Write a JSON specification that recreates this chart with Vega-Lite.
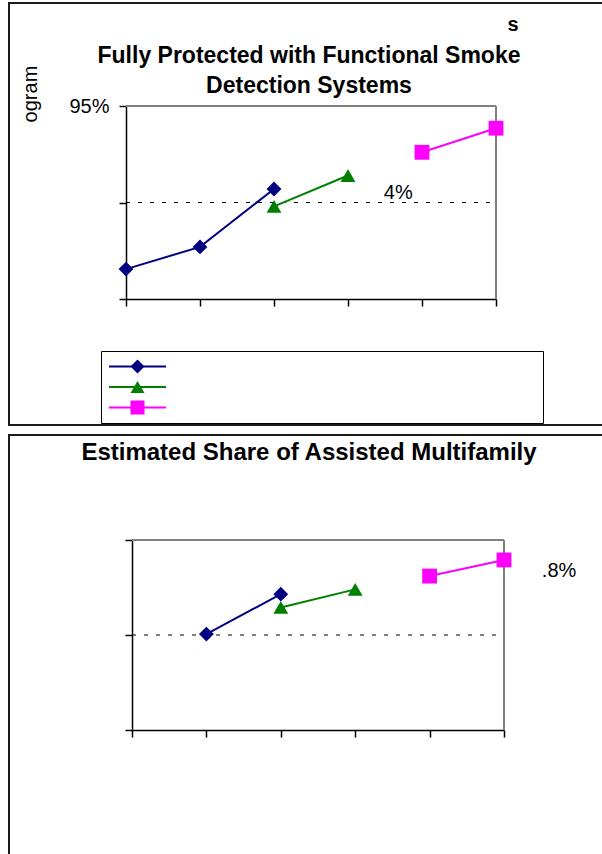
{
  "$schema": "https://vega.github.io/schema/vega-lite/v6.json",
  "padding": {"left": 8, "top": 2, "right": 0, "bottom": 0},
  "spacing": 8,
  "background": "white",
  "config": {
    "font": "Liberation Sans",
    "view": {"stroke": "#1a1a1a", "strokeWidth": 2},
    "axis": {"labelFont": "Liberation Sans", "titleFont": "Liberation Sans"}
  },
  "datasets": {
    "top": [
      {"series": "Series 1", "x": 0, "y": 78.1},
      {"series": "Series 1", "x": 1, "y": 80.4},
      {"series": "Series 1", "x": 2, "y": 86.4},
      {"series": "Series 2", "x": 2, "y": 84.6},
      {"series": "Series 2", "x": 3, "y": 87.8},
      {"series": "Series 3", "x": 4, "y": 90.2},
      {"series": "Series 3", "x": 5, "y": 92.7}
    ],
    "bottom": [
      {"series": "Series 1", "x": 1, "y": 80.1},
      {"series": "Series 1", "x": 2, "y": 84.3},
      {"series": "Series 2", "x": 2, "y": 82.9},
      {"series": "Series 2", "x": 3, "y": 84.8},
      {"series": "Series 3", "x": 4, "y": 86.2},
      {"series": "Series 3", "x": 5, "y": 87.9}
    ]
  },
  "resolve": {
    "scale": {"x": "independent", "y": "independent", "color": "independent", "shape": "independent", "stroke": "independent"},
    "legend": {"color": "independent", "shape": "independent", "stroke": "independent"}
  },
  "vconcat": [
    {
      "width": 600,
      "height": 422,
      "title": {
        "text": ["Fully Protected with Functional Smoke", "Detection Systems"],
        "anchor": "middle",
        "frame": "group",
        "offset": -95,
        "baseline": "top",
        "fontSize": 23,
        "fontWeight": "bold",
        "lineHeight": 30,
        "font": "Liberation Sans",
        "color": "#000"
      },
      "layer": [
        {
          "data": {"values": [{}]},
          "mark": {"type": "rule", "color": "#808080", "strokeWidth": 2},
          "encoding": {
            "x": {"datum": 0, "type": "quantitative"},
            "x2": {"datum": 5},
            "y": {"datum": 95, "type": "quantitative"}
          }
        },
        {
          "data": {"values": [{}]},
          "mark": {"type": "rule", "color": "#808080", "strokeWidth": 2},
          "encoding": {
            "x": {"datum": 5, "type": "quantitative"},
            "y": {"datum": 75, "type": "quantitative"},
            "y2": {"datum": 95}
          }
        },
        {
          "data": {"values": [{}]},
          "mark": {"type": "rule", "color": "#000", "strokeWidth": 1, "strokeDash": [4, 8]},
          "encoding": {
            "x": {"datum": 0, "type": "quantitative"},
            "x2": {"datum": 5},
            "y": {"datum": 85, "type": "quantitative"}
          }
        },
        {
          "data": {"name": "top"},
          "mark": {"type": "line", "strokeWidth": 2},
          "encoding": {
            "x": {
              "field": "x", "type": "quantitative",
              "scale": {"domain": [0, 5], "range": [117, 487], "nice": false, "zero": false},
              "axis": {
                "orient": "bottom", "offset": -126, "values": [0, 1, 2, 3, 4, 5],
                "labels": false, "title": null, "grid": false,
                "domainColor": "#000", "domainWidth": 1.5,
                "tickColor": "#000", "tickWidth": 1.5, "tickSize": 7
              }
            },
            "y": {
              "field": "y", "type": "quantitative",
              "scale": {"domain": [75, 95], "range": [296, 103], "nice": false, "zero": false},
              "axis": {
                "orient": "left", "offset": -117, "values": [75, 85, 95],
                "labelExpr": "datum.value == 95 ? '95%' : ''",
                "labelFontSize": 20, "labelColor": "#000", "labelPadding": 10,
                "title": null, "grid": false,
                "domainColor": "#000", "domainWidth": 1.5,
                "tickColor": "#000", "tickWidth": 1.5, "tickSize": 7
              }
            },
            "stroke": {
              "field": "series", "type": "nominal",
              "scale": {"domain": ["Series 3", "Series 2", "Series 1"], "range": ["#FF00FF", "#008000", "#000080"]},
              "legend": {
                "orient": "none", "legendX": 92, "legendY": 348, "zindex": 1,
                "values": ["Series 1", "Series 2", "Series 3"],
                "title": null,
                "strokeColor": "#000", "fillColor": "#fff", "padding": 8,
                "symbolType": "stroke",
                "symbolSize": 3249, "symbolStrokeWidth": 2, "symbolOffset": -1,
                "clipHeight": 15,
                "rowPadding": 5.5,
                "labelExpr": "'\u00a0'", "labelFontSize": 10, "labelOffset": 368
              }
            }
          }
        },
        {
          "data": {"name": "top"},
          "mark": {"type": "point", "filled": true, "opacity": 1, "size": 220},
          "encoding": {
            "x": {"field": "x", "type": "quantitative"},
            "y": {"field": "y", "type": "quantitative"},
            "color": {
              "field": "series", "type": "nominal",
              "scale": {"domain": ["Series 1", "Series 2", "Series 3"], "range": ["#000080", "#008000", "#FF00FF"]},
              "legend": {
                "orient": "none", "legendX": 92, "legendY": 348, "zindex": 2,
                "title": null,
                "strokeColor": null, "fillColor": null, "padding": 8,
                "symbolSize": 196, "symbolStrokeWidth": 0, "symbolOffset": 21.5,
                "symbolOpacity": 1,
                "clipHeight": 15,
                "rowPadding": 5.5,
                "labelExpr": "'\u00a0'", "labelFontSize": 10, "labelOffset": 368
              }
            },
            "shape": {
              "field": "series", "type": "nominal",
              "scale": {"domain": ["Series 1", "Series 2", "Series 3"], "range": ["diamond", "triangle-up", "square"]},
              "legend": {
                "orient": "none", "legendX": 92, "legendY": 348, "zindex": 2,
                "title": null,
                "strokeColor": null, "fillColor": null, "padding": 8,
                "symbolSize": 196, "symbolStrokeWidth": 0, "symbolOffset": 21.5,
                "symbolOpacity": 1,
                "clipHeight": 15,
                "rowPadding": 5.5,
                "labelExpr": "'\u00a0'", "labelFontSize": 10, "labelOffset": 368
              }
            }
          }
        },
        {
          "data": {"values": [{}]},
          "mark": {"type": "text", "fontSize": 20, "fontWeight": "bold", "align": "center", "baseline": "middle", "color": "#000"},
          "encoding": {
            "x": {"datum": 5.23, "type": "quantitative"},
            "y": {"datum": 103.4, "type": "quantitative"},
            "text": {"value": "s"}
          }
        },
        {
          "data": {"values": [{}]},
          "mark": {"type": "text", "fontSize": 20, "angle": 270, "align": "center", "baseline": "middle", "color": "#000"},
          "encoding": {
            "x": {"datum": -1.284, "type": "quantitative"},
            "y": {"datum": 96.24, "type": "quantitative"},
            "text": {"value": "ogram"}
          }
        },
        {
          "data": {"values": [{}]},
          "mark": {"type": "text", "fontSize": 20, "align": "center", "baseline": "middle", "color": "#000"},
          "encoding": {
            "x": {"datum": 3.68, "type": "quantitative"},
            "y": {"datum": 86.0, "type": "quantitative"},
            "text": {"value": "4%"}
          }
        }
      ]
    },
    {
      "width": 600,
      "height": 420,
      "title": {
        "text": "Estimated Share of Assisted Multifamily",
        "anchor": "middle",
        "frame": "group",
        "offset": -30,
        "baseline": "top",
        "fontSize": 24,
        "fontWeight": "bold",
        "font": "Liberation Sans",
        "color": "#000"
      },
      "layer": [
        {
          "data": {"values": [{}]},
          "mark": {"type": "rule", "color": "#808080", "strokeWidth": 2},
          "encoding": {
            "x": {"datum": 0, "type": "quantitative"},
            "x2": {"datum": 5},
            "y": {"datum": 90, "type": "quantitative"}
          }
        },
        {
          "data": {"values": [{}]},
          "mark": {"type": "rule", "color": "#808080", "strokeWidth": 2},
          "encoding": {
            "x": {"datum": 5, "type": "quantitative"},
            "y": {"datum": 70, "type": "quantitative"},
            "y2": {"datum": 90}
          }
        },
        {
          "data": {"values": [{}]},
          "mark": {"type": "rule", "color": "#000", "strokeWidth": 1, "strokeDash": [4, 8]},
          "encoding": {
            "x": {"datum": 0, "type": "quantitative"},
            "x2": {"datum": 5},
            "y": {"datum": 80, "type": "quantitative"}
          }
        },
        {
          "data": {"name": "bottom"},
          "mark": {"type": "line", "strokeWidth": 2},
          "encoding": {
            "x": {
              "field": "x", "type": "quantitative",
              "scale": {"domain": [0, 5], "range": [123, 495], "nice": false, "zero": false},
              "axis": {
                "orient": "bottom", "offset": -125, "values": [0, 1, 2, 3, 4, 5],
                "labels": false, "title": null, "grid": false,
                "domainColor": "#000", "domainWidth": 1.5,
                "tickColor": "#000", "tickWidth": 1.5, "tickSize": 7
              }
            },
            "y": {
              "field": "y", "type": "quantitative",
              "scale": {"domain": [70, 90], "range": [295, 105], "nice": false, "zero": false},
              "axis": {
                "orient": "left", "offset": -123, "values": [70, 80, 90],
                "labels": false, "title": null, "grid": false,
                "domainColor": "#000", "domainWidth": 1.5,
                "tickColor": "#000", "tickWidth": 1.5, "tickSize": 7
              }
            },
            "color": {
              "field": "series", "type": "nominal",
              "scale": {"domain": ["Series 1", "Series 2", "Series 3"], "range": ["#000080", "#008000", "#FF00FF"]},
              "legend": null
            }
          }
        },
        {
          "data": {"name": "bottom"},
          "mark": {"type": "point", "filled": true, "opacity": 1, "size": 220},
          "encoding": {
            "x": {"field": "x", "type": "quantitative"},
            "y": {"field": "y", "type": "quantitative"},
            "color": {"field": "series", "type": "nominal", "legend": null},
            "shape": {
              "field": "series", "type": "nominal",
              "scale": {"domain": ["Series 1", "Series 2", "Series 3"], "range": ["diamond", "triangle-up", "square"]},
              "legend": null
            }
          }
        },
        {
          "data": {"values": [{}]},
          "mark": {"type": "text", "fontSize": 20, "align": "center", "baseline": "middle", "color": "#000"},
          "encoding": {
            "x": {"datum": 5.74, "type": "quantitative"},
            "y": {"datum": 86.7, "type": "quantitative"},
            "text": {"value": ".8%"}
          }
        }
      ]
    }
  ]
}
